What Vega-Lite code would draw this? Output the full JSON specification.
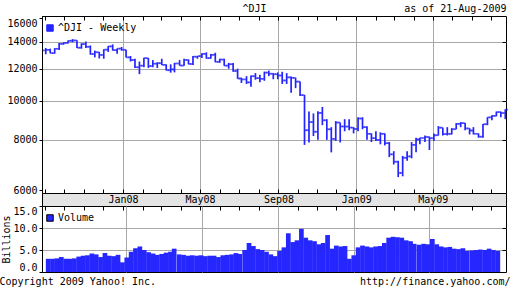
{
  "$schema": "https://vega.github.io/schema/vega-lite/v6.json",
  "background": "white",
  "padding": {"left": -2, "top": 2, "right": 0, "bottom": 0},
  "spacing": 0,
  "bounds": "flush",
  "config": {
    "font": "DejaVu Sans Mono",
    "view": {"stroke": "black", "strokeWidth": 1},
    "axis": {"labelFont": "DejaVu Sans Mono", "labelFontSize": 10, "labelColor": "black", "titleFont": "DejaVu Sans Mono", "titleFontSize": 10, "titleFontWeight": "normal", "titleColor": "black", "tickColor": "black", "domainColor": "black", "gridColor": "#a8a8a8", "gridOpacity": 1, "gridWidth": 1},
    "legend": {"labelFont": "DejaVu Sans Mono", "labelFontSize": 10, "labelColor": "black"}
  },
  "resolve": {"scale": {"color": "independent"}, "legend": {"color": "independent"}},
  "datasets": {
    "w": [
      {"d": "2007-08-31", "o": 13322, "h": 13500, "l": 13029, "c": 13358, "v": 3.0},
      {"d": "2007-09-07", "o": 13358, "h": 13450, "l": 13100, "c": 13113, "v": 3.0},
      {"d": "2007-09-14", "o": 13113, "h": 13480, "l": 13071, "c": 13442, "v": 3.1},
      {"d": "2007-09-21", "o": 13442, "h": 13900, "l": 13350, "c": 13820, "v": 3.4},
      {"d": "2007-09-28", "o": 13820, "h": 13950, "l": 13760, "c": 13896, "v": 3.0},
      {"d": "2007-10-05", "o": 13896, "h": 14090, "l": 13850, "c": 14066, "v": 3.0},
      {"d": "2007-10-12", "o": 14066, "h": 14198, "l": 13950, "c": 14093, "v": 3.1},
      {"d": "2007-10-19", "o": 14093, "h": 14100, "l": 13500, "c": 13522, "v": 3.5},
      {"d": "2007-10-26", "o": 13522, "h": 13870, "l": 13450, "c": 13806, "v": 3.7},
      {"d": "2007-11-02", "o": 13806, "h": 14000, "l": 13500, "c": 13595, "v": 3.8},
      {"d": "2007-11-09", "o": 13595, "h": 13700, "l": 13000, "c": 13043, "v": 4.2},
      {"d": "2007-11-16", "o": 13043, "h": 13300, "l": 12800, "c": 13177, "v": 4.0},
      {"d": "2007-11-23", "o": 13177, "h": 13200, "l": 12720, "c": 12980, "v": 3.4},
      {"d": "2007-11-30", "o": 12980, "h": 13400, "l": 12700, "c": 13371, "v": 4.3},
      {"d": "2007-12-07", "o": 13371, "h": 13650, "l": 13200, "c": 13625, "v": 3.7},
      {"d": "2007-12-14", "o": 13625, "h": 13780, "l": 13300, "c": 13340, "v": 3.6},
      {"d": "2007-12-21", "o": 13340, "h": 13460, "l": 13070, "c": 13450, "v": 3.9},
      {"d": "2007-12-28", "o": 13450, "h": 13580, "l": 13300, "c": 13366, "v": 2.2},
      {"d": "2008-01-04", "o": 13366, "h": 13370, "l": 12790, "c": 12800, "v": 3.3},
      {"d": "2008-01-11", "o": 12800, "h": 12900, "l": 12500, "c": 12606, "v": 4.6},
      {"d": "2008-01-18", "o": 12606, "h": 12700, "l": 12050, "c": 12099, "v": 5.4},
      {"d": "2008-01-25", "o": 12099, "h": 12500, "l": 11634, "c": 12207, "v": 5.8},
      {"d": "2008-02-01", "o": 12207, "h": 12770, "l": 12100, "c": 12743, "v": 5.0},
      {"d": "2008-02-08", "o": 12743, "h": 12750, "l": 12050, "c": 12183, "v": 4.5},
      {"d": "2008-02-15", "o": 12183, "h": 12600, "l": 12100, "c": 12348, "v": 4.2},
      {"d": "2008-02-22", "o": 12348, "h": 12450, "l": 12050, "c": 12381, "v": 3.9},
      {"d": "2008-02-29", "o": 12381, "h": 12700, "l": 12250, "c": 12266, "v": 4.1},
      {"d": "2008-03-07", "o": 12266, "h": 12300, "l": 11880, "c": 11894, "v": 4.4},
      {"d": "2008-03-14", "o": 11894, "h": 12300, "l": 11730, "c": 11951, "v": 4.6},
      {"d": "2008-03-20", "o": 11951, "h": 12400, "l": 11750, "c": 12361, "v": 5.3},
      {"d": "2008-03-28", "o": 12361, "h": 12600, "l": 12200, "c": 12216, "v": 4.0},
      {"d": "2008-04-04", "o": 12216, "h": 12700, "l": 12200, "c": 12609, "v": 3.9},
      {"d": "2008-04-11", "o": 12609, "h": 12650, "l": 12300, "c": 12325, "v": 3.7},
      {"d": "2008-04-18", "o": 12325, "h": 12900, "l": 12250, "c": 12849, "v": 3.8},
      {"d": "2008-04-25", "o": 12849, "h": 12900, "l": 12700, "c": 12891, "v": 3.7},
      {"d": "2008-05-02", "o": 12891, "h": 13100, "l": 12750, "c": 13058, "v": 3.8},
      {"d": "2008-05-09", "o": 13058, "h": 13170, "l": 12700, "c": 12745, "v": 3.6},
      {"d": "2008-05-16", "o": 12745, "h": 13050, "l": 12700, "c": 12986, "v": 3.7},
      {"d": "2008-05-23", "o": 12986, "h": 13140, "l": 12450, "c": 12479, "v": 3.7},
      {"d": "2008-05-30", "o": 12479, "h": 12700, "l": 12400, "c": 12638, "v": 3.4},
      {"d": "2008-06-06", "o": 12638, "h": 12700, "l": 12200, "c": 12209, "v": 3.8},
      {"d": "2008-06-13", "o": 12209, "h": 12400, "l": 12000, "c": 12307, "v": 3.9},
      {"d": "2008-06-20", "o": 12307, "h": 12400, "l": 11800, "c": 11842, "v": 4.0},
      {"d": "2008-06-27", "o": 11842, "h": 12000, "l": 11330, "c": 11346, "v": 4.3},
      {"d": "2008-07-03", "o": 11346, "h": 11400, "l": 11060, "c": 11288, "v": 4.1},
      {"d": "2008-07-11", "o": 11288, "h": 11500, "l": 11000, "c": 11100, "v": 5.0},
      {"d": "2008-07-18", "o": 11100, "h": 11550, "l": 10827, "c": 11496, "v": 6.6},
      {"d": "2008-07-25", "o": 11496, "h": 11700, "l": 11270, "c": 11370, "v": 5.9},
      {"d": "2008-08-01", "o": 11370, "h": 11600, "l": 11100, "c": 11326, "v": 5.2},
      {"d": "2008-08-08", "o": 11326, "h": 11800, "l": 11200, "c": 11734, "v": 5.0},
      {"d": "2008-08-15", "o": 11734, "h": 11870, "l": 11500, "c": 11659, "v": 4.6},
      {"d": "2008-08-22", "o": 11659, "h": 11700, "l": 11300, "c": 11628, "v": 4.0},
      {"d": "2008-08-29", "o": 11628, "h": 11750, "l": 11300, "c": 11543, "v": 3.6},
      {"d": "2008-09-05", "o": 11543, "h": 11790, "l": 11000, "c": 11220, "v": 4.8},
      {"d": "2008-09-12", "o": 11220, "h": 11700, "l": 11000, "c": 11421, "v": 5.6},
      {"d": "2008-09-19", "o": 11421, "h": 11480, "l": 10459, "c": 11388, "v": 8.8},
      {"d": "2008-09-26", "o": 11388, "h": 11400, "l": 10740, "c": 11143, "v": 6.8},
      {"d": "2008-10-03", "o": 11143, "h": 11150, "l": 10266, "c": 10325, "v": 7.2},
      {"d": "2008-10-10", "o": 10325, "h": 10330, "l": 7773, "c": 8451, "v": 9.8},
      {"d": "2008-10-17", "o": 8451, "h": 9400, "l": 7882, "c": 8852, "v": 7.8},
      {"d": "2008-10-24", "o": 8852, "h": 9300, "l": 8175, "c": 8378, "v": 7.2},
      {"d": "2008-10-31", "o": 8378, "h": 9420, "l": 8000, "c": 9325, "v": 7.0},
      {"d": "2008-11-07", "o": 9325, "h": 9650, "l": 8700, "c": 8943, "v": 6.3},
      {"d": "2008-11-14", "o": 8943, "h": 9000, "l": 8000, "c": 8497, "v": 6.6},
      {"d": "2008-11-21", "o": 8497, "h": 8600, "l": 7449, "c": 8046, "v": 8.4},
      {"d": "2008-11-28", "o": 8046, "h": 8900, "l": 7950, "c": 8829, "v": 5.3},
      {"d": "2008-12-05", "o": 8829, "h": 8830, "l": 7880, "c": 8635, "v": 6.0},
      {"d": "2008-12-12", "o": 8635, "h": 9000, "l": 8400, "c": 8629, "v": 5.8},
      {"d": "2008-12-19", "o": 8629, "h": 9000, "l": 8450, "c": 8579, "v": 5.9},
      {"d": "2008-12-26", "o": 8579, "h": 8600, "l": 8300, "c": 8515, "v": 3.0},
      {"d": "2009-01-02", "o": 8515, "h": 9100, "l": 8400, "c": 9034, "v": 3.8},
      {"d": "2009-01-09", "o": 9034, "h": 9100, "l": 8500, "c": 8599, "v": 5.6},
      {"d": "2009-01-16", "o": 8599, "h": 8650, "l": 8000, "c": 8281, "v": 6.0},
      {"d": "2009-01-23", "o": 8281, "h": 8300, "l": 7900, "c": 8077, "v": 5.8},
      {"d": "2009-01-30", "o": 8077, "h": 8400, "l": 7950, "c": 8000, "v": 5.6},
      {"d": "2009-02-06", "o": 8000, "h": 8350, "l": 7800, "c": 8280, "v": 5.8},
      {"d": "2009-02-13", "o": 8280, "h": 8300, "l": 7750, "c": 7850, "v": 5.9},
      {"d": "2009-02-20", "o": 7850, "h": 7900, "l": 7250, "c": 7366, "v": 6.6},
      {"d": "2009-02-27", "o": 7366, "h": 7500, "l": 6950, "c": 7063, "v": 7.8},
      {"d": "2009-03-06", "o": 7063, "h": 7100, "l": 6470, "c": 6627, "v": 8.0},
      {"d": "2009-03-13", "o": 6627, "h": 7300, "l": 6500, "c": 7224, "v": 7.9},
      {"d": "2009-03-20", "o": 7224, "h": 7500, "l": 7100, "c": 7279, "v": 7.8},
      {"d": "2009-03-27", "o": 7279, "h": 7900, "l": 7200, "c": 7776, "v": 7.2},
      {"d": "2009-04-03", "o": 7776, "h": 8100, "l": 7450, "c": 8018, "v": 7.0},
      {"d": "2009-04-09", "o": 8018, "h": 8100, "l": 7800, "c": 8083, "v": 6.4},
      {"d": "2009-04-17", "o": 8083, "h": 8200, "l": 7900, "c": 8131, "v": 6.2},
      {"d": "2009-04-24", "o": 8131, "h": 8150, "l": 7550, "c": 8076, "v": 6.4},
      {"d": "2009-05-01", "o": 8076, "h": 8300, "l": 7950, "c": 8212, "v": 6.3},
      {"d": "2009-05-08", "o": 8212, "h": 8650, "l": 8200, "c": 8575, "v": 7.5},
      {"d": "2009-05-15", "o": 8575, "h": 8580, "l": 8200, "c": 8268, "v": 6.3},
      {"d": "2009-05-22", "o": 8268, "h": 8600, "l": 8200, "c": 8277, "v": 5.8},
      {"d": "2009-05-29", "o": 8277, "h": 8550, "l": 8250, "c": 8500, "v": 5.6},
      {"d": "2009-06-05", "o": 8500, "h": 8800, "l": 8500, "c": 8764, "v": 5.7},
      {"d": "2009-06-12", "o": 8764, "h": 8850, "l": 8600, "c": 8799, "v": 5.3},
      {"d": "2009-06-19", "o": 8799, "h": 8800, "l": 8450, "c": 8539, "v": 5.2},
      {"d": "2009-06-26", "o": 8539, "h": 8550, "l": 8250, "c": 8438, "v": 5.4},
      {"d": "2009-07-02", "o": 8438, "h": 8600, "l": 8250, "c": 8280, "v": 4.8},
      {"d": "2009-07-10", "o": 8280, "h": 8300, "l": 8100, "c": 8146, "v": 4.9},
      {"d": "2009-07-17", "o": 8146, "h": 8750, "l": 8100, "c": 8743, "v": 5.0},
      {"d": "2009-07-24", "o": 8743, "h": 9100, "l": 8700, "c": 9093, "v": 5.1},
      {"d": "2009-07-31", "o": 9093, "h": 9200, "l": 8950, "c": 9171, "v": 5.0},
      {"d": "2009-08-07", "o": 9171, "h": 9400, "l": 9150, "c": 9370, "v": 5.3},
      {"d": "2009-08-14", "o": 9370, "h": 9400, "l": 9100, "c": 9321, "v": 5.0},
      {"d": "2009-08-21", "o": 9321, "h": 9520, "l": 9000, "c": 9505, "v": 4.8}
    ]
  },
  "vconcat": [
    {
      "width": 464,
      "height": 177,
      "data": {"name": "w"},
      "layer": [
        {
          "mark": {"type": "rule", "strokeWidth": 1.7, "xOffset": 1.2},
          "encoding": {
            "x": {"field": "d", "type": "temporal",
              "scale": {"type": "utc", "domain": [{"year": 2007, "month": 8, "date": 27, "utc": true}, {"year": 2009, "month": 8, "date": 24, "utc": true}]},
              "axis": {"orient": "bottom", "values": [{"year": 2008, "month": 1, "date": 1, "utc": true}, {"year": 2008, "month": 5, "date": 1, "utc": true}, {"year": 2008, "month": 9, "date": 1, "utc": true}, {"year": 2009, "month": 1, "date": 1, "utc": true}, {"year": 2009, "month": 5, "date": 1, "utc": true}], "grid": true, "ticks": false, "labels": false, "domain": false, "title": null}},
            "y": {"field": "h", "type": "quantitative",
              "scale": {"type": "log", "domain": [5910, 16200], "nice": false, "zero": false},
              "axis": {"orient": "left", "values": [6000, 8000, 10000, 12000, 14000, 16000], "format": "d", "grid": false, "tickSize": 3, "labelPadding": 2, "labelFlush": 2.3, "domain": true, "title": null}},
            "y2": {"field": "l"},
            "color": {"datum": "^DJI - Weekly", "scale": {"range": ["#2424ff"]},
              "legend": {"orient": "none", "legendX": 3, "legendY": 7, "title": null, "symbolType": "square", "symbolSize": 42, "labelOffset": 3, "padding": 0,
                "encode": {"symbols": {"update": {"fill": {"value": "#2424ff"}, "stroke": {"value": "black"}, "strokeWidth": {"value": 1}, "opacity": {"value": 1}}}}}}
          }
        },
        {
          "mark": {"type": "tick", "orient": "horizontal", "size": 2.8, "thickness": 1.7, "xOffset": -0.2, "color": "#2424ff"},
          "encoding": {
            "x": {"field": "d", "type": "temporal",
              "axis": {"orient": "top", "tickCount": {"interval": "month", "step": 1}, "offset": -4, "tickSize": 4, "labels": false, "domain": false, "grid": false,
                "title": "as of 21-Aug-2009", "titleX": 464, "titleY": -12, "titleAlign": "right", "titleBaseline": "middle", "titleAngle": 0}},
            "y": {"field": "o", "type": "quantitative",
              "axis": {"orient": "right", "values": [8000, 10000, 12000, 14000], "offset": -4, "tickSize": 4, "labels": false, "domain": false, "grid": false, "title": null}}
          }
        },
        {
          "mark": {"type": "tick", "orient": "horizontal", "size": 2.8, "thickness": 1.7, "xOffset": 2.6, "color": "#2424ff"},
          "encoding": {
            "x": {"field": "d", "type": "temporal",
              "axis": {"orient": "top", "ticks": false, "labels": false, "domain": false, "grid": false,
                "title": "^DJI", "titleX": 212, "titleY": -8, "titleAlign": "center", "titleBaseline": "middle", "titleAngle": 0}},
            "y": {"field": "c", "type": "quantitative",
              "axis": {"orient": "left", "values": [8000, 10000, 12000, 14000], "grid": true, "ticks": false, "labels": false, "domain": false, "title": null}}
          }
        }
      ],
      "resolve": {"axis": {"x": "independent", "y": "independent"}}
    },
    {
      "width": 464,
      "height": 13,
      "data": {"name": "w"},
      "view": {"fill": "#e4e4e4", "stroke": "black"},
      "layer": [
        {
          "mark": {"type": "point", "opacity": 0, "size": 0},
          "encoding": {
            "x": {"field": "d", "type": "temporal",
              "scale": {"type": "utc", "domain": [{"year": 2007, "month": 8, "date": 27, "utc": true}, {"year": 2009, "month": 8, "date": 24, "utc": true}]},
              "axis": {"orient": "bottom", "tickCount": {"interval": "month", "step": 1}, "tickSize": 4,
                "labelExpr": "utcyear(datum.value) > 2007 && utcmonth(datum.value) % 4 == 0 ? utcFormat(datum.value, '%b%y') : ''",
                "labelPadding": -10.5, "labelBaseline": "middle", "labelOverlap": false, "labelFlush": false, "labelBound": false,
                "domain": false, "grid": false, "title": null}},
            "y": {"datum": 0, "type": "quantitative", "axis": null}
          }
        },
        {
          "mark": {"type": "point", "opacity": 0, "size": 0},
          "encoding": {
            "x": {"field": "d", "type": "temporal",
              "axis": {"orient": "top", "tickCount": {"interval": "month", "step": 1}, "tickSize": 4, "labels": false, "domain": false, "grid": false, "title": null}},
            "y": {"datum": 0, "type": "quantitative", "axis": null}
          }
        }
      ],
      "resolve": {"axis": {"x": "independent"}}
    },
    {
      "width": 464,
      "height": 66,
      "data": {"name": "w"},
      "layer": [
        {
          "mark": {"type": "bar", "width": 4.7, "xOffset": -1.3, "clip": true},
          "encoding": {
            "x": {"field": "d", "type": "temporal",
              "scale": {"type": "utc", "domain": [{"year": 2007, "month": 8, "date": 27, "utc": true}, {"year": 2009, "month": 8, "date": 24, "utc": true}]},
              "axis": {"orient": "bottom", "values": [{"year": 2008, "month": 1, "date": 1, "utc": true}, {"year": 2008, "month": 5, "date": 1, "utc": true}, {"year": 2008, "month": 9, "date": 1, "utc": true}, {"year": 2009, "month": 1, "date": 1, "utc": true}, {"year": 2009, "month": 5, "date": 1, "utc": true}], "grid": true, "ticks": false, "labels": false, "domain": false,
                "title": "Copyright 2009 Yahoo! Inc.", "titleX": -43, "titleY": 9, "titleAlign": "left", "titleBaseline": "middle", "titleAngle": 0}},
            "y": {"field": "v", "type": "quantitative",
              "scale": {"domain": [0, 15], "nice": false},
              "axis": {"orient": "left", "values": [0, 5, 10, 15], "format": ".1f", "tickSize": 3, "labelPadding": 2, "labelFlush": true, "grid": false, "domain": true,
                "title": "Billions", "titleX": -35.5, "titleY": 33, "titleAngle": -90, "titleAlign": "center", "titleBaseline": "middle"}},
            "color": {"datum": "Volume", "scale": {"range": ["#2626ff"]},
              "legend": {"orient": "none", "legendX": 3, "legendY": 7, "title": null, "symbolType": "square", "symbolSize": 42, "labelOffset": 3, "padding": 0,
                "encode": {"symbols": {"update": {"fill": {"value": "#2626ff"}, "stroke": {"value": "black"}, "strokeWidth": {"value": 1}, "opacity": {"value": 1}}}}}}
          }
        },
        {
          "mark": {"type": "point", "opacity": 0, "size": 0},
          "encoding": {
            "x": {"field": "d", "type": "temporal",
              "axis": {"orient": "bottom", "ticks": false, "labels": false, "domain": false, "grid": false,
                "title": "http://finance.yahoo.com/", "titleX": 468, "titleY": 9, "titleAlign": "right", "titleBaseline": "middle", "titleAngle": 0}},
            "y": {"datum": 5, "type": "quantitative",
              "axis": {"orient": "right", "values": [5, 10], "offset": -4, "tickSize": 4, "labels": false, "domain": false, "grid": false, "title": null}}
          }
        },
        {
          "mark": {"type": "point", "opacity": 0, "size": 0},
          "encoding": {
            "x": {"field": "d", "type": "temporal", "axis": null},
            "y": {"datum": 10, "type": "quantitative",
              "axis": {"orient": "left", "values": [5, 10], "grid": true, "ticks": false, "labels": false, "domain": false, "title": null}}
          }
        }
      ],
      "resolve": {"axis": {"x": "independent", "y": "independent"}}
    }
  ]
}
